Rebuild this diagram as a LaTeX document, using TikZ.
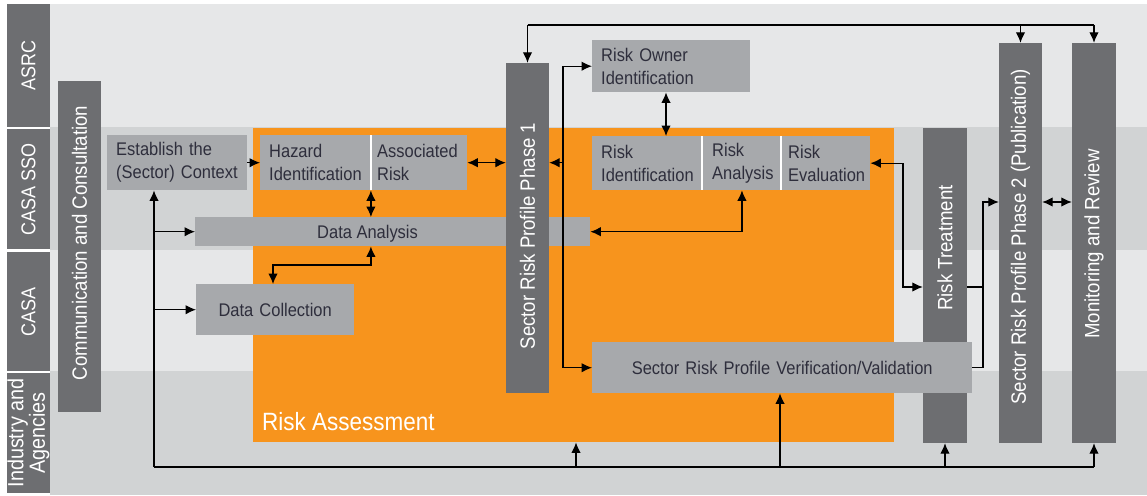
\documentclass[tikz,border=0pt]{standalone}
\usepackage{fontspec}
\setmainfont{Liberation Sans}[FakeStretch=0.9]
\usetikzlibrary{arrows.meta,calc}
\definecolor{lanea}{HTML}{E6E7E8}
\definecolor{laneb}{HTML}{D1D3D4}
\definecolor{dgray}{HTML}{6D6E71}
\definecolor{lgray}{HTML}{A7A9AC}
\definecolor{orng}{HTML}{F7941D}
\definecolor{txt}{HTML}{2E2E3C}
\newcommand\boxfont{\fontsize{18.3}{23}\selectfont}
\newcommand\vfont{\fontsize{20.7}{24}\selectfont}
\newcommand\lanefont{\fontsize{20}{17.5}\selectfont}
\newcommand\lanefontb{\fontsize{22}{17}\selectfont}
\newcommand\bigfont{\fontsize{25}{30}\selectfont}
\begin{document}
\begin{tikzpicture}[x=1pt,y=-1pt,
  lbox/.style={fill=lgray, text=txt, inner ysep=0pt, inner xsep=9pt, anchor=north west, align=left, font=\boxfont},
  dbox/.style={fill=dgray, inner sep=0pt},
  vtext/.style={text=white, rotate=90, inner sep=0pt, align=center, font=\vfont},
  tip/.tip={Latex[length=10.5pt,width=9.5pt]},
  arr/.style={draw=black, line width=1.2pt, -tip},
  darr/.style={draw=black, line width=1.2pt, tip-tip},
  ln/.style={draw=black, line width=1.2pt},
  divider/.style={draw=white, line width=1.5pt}
]
\useasboundingbox (0,0) rectangle (1147,495);
\fill[white] (0,0) rectangle (1147,495);
% lanes
\fill[lanea] (50,4) rectangle (1147,127);
\fill[laneb] (50,127) rectangle (1147,250);
\fill[lanea] (50,250) rectangle (1147,371);
\fill[laneb] (50,371) rectangle (1147,495);
% lane labels
\node[dbox, minimum width=43, minimum height=123] (l1) at (28.5,65.5) {};
\node[vtext, font=\lanefont] (l1t) at (l1.center) {ASRC};
\node[dbox, minimum width=43, minimum height=120] (l2) at (28.5,189) {};
\node[vtext, font=\lanefont] (l2t) at (l2.center) {CASA SSO};
\node[dbox, minimum width=43, minimum height=119] (l3) at (28.5,311.5) {};
\node[vtext, font=\lanefont] (l3t) at (l3.center) {CASA};
\node[dbox, minimum width=43, minimum height=120] (l4) at (28.5,433) {};
\node[vtext, font=\lanefontb] (l4t) at (l4.center) {Industry and\\Agencies};
% communication
\node[dbox, minimum width=43, minimum height=331] (cc) at (79.5,246.5) {};
\node[vtext] (cct) at (79.5,243) {Communication and Consultation};
% orange risk assessment
\node[fill=orng, inner sep=0pt, minimum width=641, minimum height=314, anchor=north west] (asmt) at (253,128) {};
\node[anchor=base west, text=white, inner sep=0pt, font=\bigfont] (asmtt) at (262,430) {Risk Assessment};
% light boxes
\node[lbox, text width=122, minimum height=55] (ec) at (107,135) {Establish the\\(Sector) Context};
\node[lbox, text width=92.5, minimum height=55] (hz) at (260,135) {Hazard\\Identification};
\node[lbox, inner xsep=6pt, text width=84, minimum height=55] (ar) at (371,135) {Associated\\Risk};
\node[lbox, inner xsep=0pt, text width=395, minimum height=29] (da) at (195,217) {};
\node[anchor=base west, text=txt, inner sep=0pt, font=\boxfont] (dat) at (317,238) {Data Analysis};
\node[lbox, inner xsep=0pt, text width=158, minimum height=51, align=center] (dc) at (196,284) {Data Collection};
\node[lbox, text width=140, minimum height=52] (ro) at (592,40) {Risk Owner\\Identification};
\node[lbox, text width=91.5, minimum height=54] (ri) at (592,136) {Risk\\Identification};
\node[lbox, text width=59.5, minimum height=54] (rn) at (703,136) {Risk\\Analysis};
\node[lbox, inner xsep=6pt, text width=76, minimum height=54] (re) at (782,136) {Risk\\Evaluation};
% dark bars
\node[dbox, minimum width=43, minimum height=330] (p1) at (527.5,228) {};
\node[vtext] (p1t) at (527.5,236) {Sector Risk Profile Phase 1};
\node[dbox, minimum width=44, minimum height=315] (rt) at (945,285.5) {};
\node[vtext] (rtt) at (945,248) {Risk Treatment};
\node[dbox, minimum width=43, minimum height=400] (p2) at (1020.5,243) {};
\node[vtext] (p2t) at (1020.5,237) {Sector Risk Profile Phase 2 (Publication)};
\node[dbox, minimum width=44, minimum height=400] (mon) at (1094,243) {};
\node[vtext] (mont) at (1094,244) {Monitoring and Review};
\node[lbox, inner xsep=0pt, text width=380, minimum height=51, align=center] (vv) at (592,342) {Sector Risk Profile Verification/Validation};
% dividers
\draw[divider] (hz.north east) -- (hz.south east);
\draw[divider] (ri.north east) -- (ri.south east);
\draw[divider] (rn.north east) -- (rn.south east);
% connectors
\draw[arr] (ec.east) -- (hz.west);
\draw[darr] (ar.east) -- (ar.east -| p1.west);
\draw[darr] (hz.south east) -- (hz.south east |- da.north);
\coordinate (dd) at (273,265);
\draw[darr] (hz.south east |- da.south) |- (dd) -- (dd |- dc.north);
\coordinate (rx) at (666,0);
\draw[darr] (rx |- ro.south) -- (rx |- ri.north);
\draw[darr] (rn.south) |- (da.east);
\coordinate (ex) at (903,287);
\draw[darr] (re.east) -| (ex) -- (ex -| rt.west);
\coordinate (jt) at (983,202);
\coordinate (jm) at (983,287);
\draw[arr] (vv.east) -| (jt) -- (jt -| p2.west);
\draw[ln] (rt.east |- jm) -- (jm);
\draw[darr] (p2.east |- jt) -- (mon.west |- jt);
\coordinate (vx) at (563,0);
\draw[arr] (vx |- ro.west) -- (ro.west);
\draw[arr] (vx |- ro.west) -- (vx |- vv.west) -- (vv.west);
\draw[arr] (vx |- ar.east) -- (p1.east |- ar.east);
% top line
\coordinate (tl) at (527.5,25);
\draw[ln] (tl) -- (tl -| mon.north);
\draw[arr] (tl) -- (p1.north);
\draw[arr] (tl -| p2.north) -- (p2.north);
\draw[arr] (tl -| mon.north) -- (mon.north);
% bottom line
\coordinate (bl) at (154,467);
\draw[ln] (bl) -- (bl -| mon.south);
\draw[arr] (bl) -- (bl |- ec.south);
\draw[arr] (bl |- da.west) -- (da.west);
\draw[arr] (bl |- dc.west) -- (dc.west);
\coordinate (b1) at (576,467);
\draw[arr] (b1) -- (b1 |- asmt.south);
\coordinate (b2) at (780,467);
\draw[arr] (b2) -- (b2 |- vv.south);
\draw[arr] (bl -| rt.south) -- (rt.south);
\draw[arr] (bl -| mon.south) -- (mon.south);
\end{tikzpicture}
\end{document}
